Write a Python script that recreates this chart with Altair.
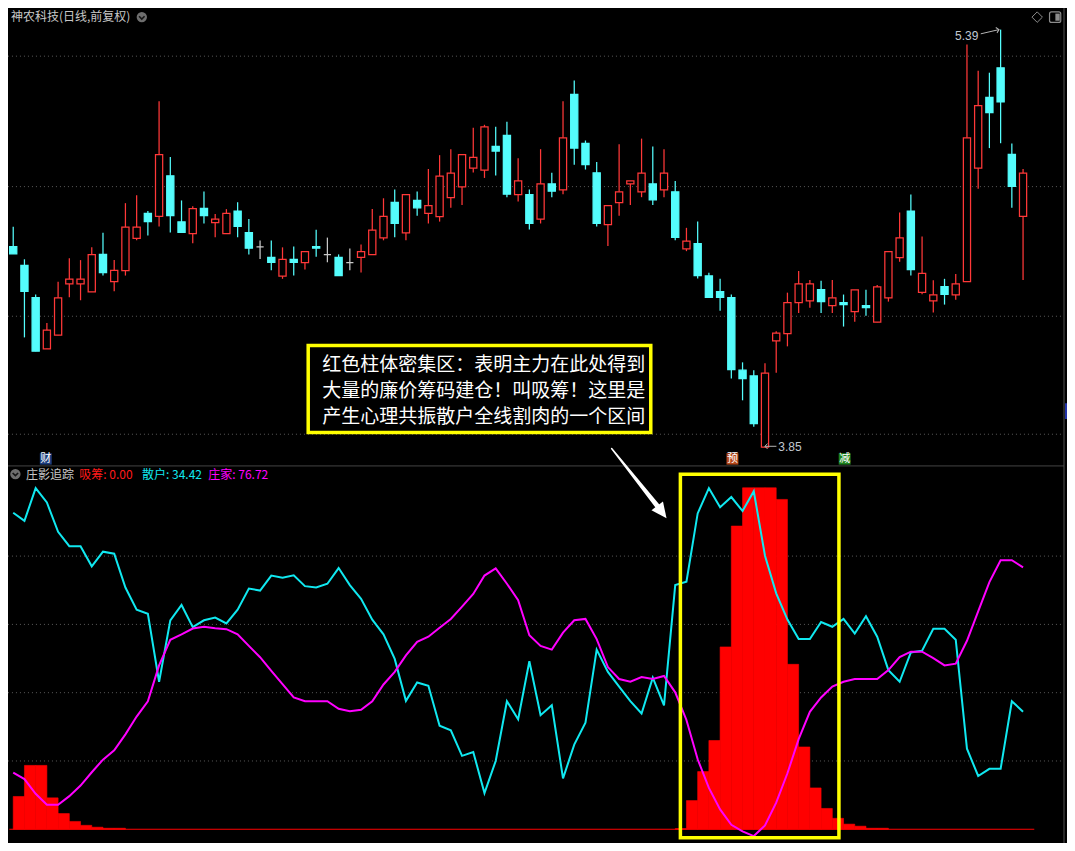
import altair as alt
import pandas as pd

# ---------------- candle data (daily, forward-adjusted) ----------------
opens = [4.590, 4.521, 4.402, 4.213, 4.263, 4.452, 4.452, 4.423, 4.561, 4.461,
         4.501, 4.620, 4.712, 4.701, 4.851, 4.681, 4.638, 4.731, 4.678, 4.638,
         4.721, 4.641, 4.589, 4.550, 4.481, 4.543, 4.531, 4.590, 4.560, 4.550,
         4.531, 4.550, 4.560, 4.622, 4.753, 4.640, 4.760, 4.712, 4.700, 4.770,
         4.810, 4.879, 4.872, 4.959, 5.000, 4.781, 4.781, 4.691, 4.821, 4.799,
         5.151, 4.970, 4.862, 4.671, 4.752, 4.821, 4.792, 4.821, 4.799, 4.792,
         4.581, 4.601, 4.482, 4.424, 4.402, 4.134, 4.113, 3.850, 4.242, 4.269,
         4.383, 4.390, 4.431, 4.372, 4.383, 4.350, 4.372, 4.311, 4.401, 4.549,
         4.721, 4.421, 4.390, 4.442, 4.412, 4.461, 4.879, 5.140, 5.249, 4.930,
         4.701]
highs = [4.663, 4.543, 4.413, 4.308, 4.460, 4.547, 4.540, 4.587, 4.641, 4.540,
         4.750, 4.779, 4.721, 5.126, 4.920, 4.760, 4.739, 4.793, 4.710, 4.728,
         4.753, 4.692, 4.612, 4.612, 4.587, 4.590, 4.571, 4.652, 4.623, 4.561,
         4.583, 4.598, 4.728, 4.768, 4.800, 4.781, 4.793, 4.876, 4.927, 4.949,
         4.929, 5.028, 5.039, 5.032, 5.050, 4.916, 4.800, 4.949, 4.862, 5.126,
         5.202, 4.981, 4.902, 4.741, 4.967, 4.832, 4.988, 4.959, 4.949, 4.832,
         4.659, 4.682, 4.493, 4.471, 4.413, 4.163, 4.134, 4.160, 4.278, 4.420,
         4.500, 4.467, 4.464, 4.467, 4.413, 4.430, 4.431, 4.448, 4.571, 4.716,
         4.782, 4.627, 4.466, 4.471, 4.489, 5.335, 5.238, 5.231, 5.390, 4.970,
         4.876]
lows = [4.563, 4.255, 4.204, 4.213, 4.263, 4.403, 4.392, 4.423, 4.483, 4.425,
        4.483, 4.613, 4.631, 4.664, 4.642, 4.642, 4.602, 4.675, 4.624, 4.638,
        4.624, 4.561, 4.544, 4.503, 4.471, 4.483, 4.505, 4.552, 4.532, 4.483,
        4.503, 4.494, 4.560, 4.613, 4.624, 4.613, 4.704, 4.675, 4.682, 4.733,
        4.743, 4.863, 4.843, 4.852, 4.772, 4.756, 4.653, 4.675, 4.772, 4.783,
        4.892, 4.874, 4.664, 4.592, 4.704, 4.743, 4.772, 4.743, 4.772, 4.613,
        4.573, 4.472, 4.403, 4.353, 4.103, 4.023, 3.926, 3.850, 4.125, 4.222,
        4.345, 4.364, 4.345, 4.345, 4.295, 4.313, 4.335, 4.311, 4.387, 4.534,
        4.483, 4.414, 4.347, 4.376, 4.394, 4.461, 4.803, 4.953, 4.971, 4.733,
        4.467]
closes = [4.563, 4.425, 4.204, 4.282, 4.401, 4.470, 4.470, 4.560, 4.494, 4.502,
          4.662, 4.662, 4.682, 4.929, 4.704, 4.642, 4.730, 4.704, 4.691, 4.712,
          4.664, 4.584, 4.589, 4.532, 4.543, 4.532, 4.571, 4.584, 4.560, 4.483,
          4.531, 4.571, 4.651, 4.701, 4.675, 4.781, 4.733, 4.741, 4.850, 4.861,
          4.929, 4.919, 5.031, 4.942, 4.783, 4.832, 4.675, 4.821, 4.794, 4.991,
          4.953, 4.892, 4.675, 4.741, 4.792, 4.832, 4.861, 4.762, 4.861, 4.624,
          4.610, 4.483, 4.403, 4.403, 4.136, 4.103, 3.937, 4.123, 4.271, 4.383,
          4.452, 4.452, 4.387, 4.401, 4.376, 4.430, 4.365, 4.441, 4.571, 4.622,
          4.505, 4.491, 4.412, 4.414, 4.452, 4.991, 5.110, 5.084, 5.123, 4.812,
          4.861]

# ---------------- indicator data (庄影追踪) ----------------
retail = [92.7, 90.3, 99.9, 95.7, 87.1, 82.9, 82.9, 77.0, 81.3, 80.7,
          70.8, 64.3, 63.1, 43.2, 61.2, 65.7, 59.2, 61.2, 62.0, 60.3,
          64.3, 70.5, 69.9, 74.3, 73.7, 74.4, 71.2, 70.8, 71.9, 76.5,
          71.5, 67.5, 61.4, 57.1, 49.9, 37.6, 43.0, 42.0, 30.3, 29.0,
          21.5, 22.6, 10.6, 20.0, 37.5, 32.2, 49.2, 33.4, 36.3, 14.9,
          24.8, 31.2, 52.6, 46.1, 41.8, 37.5, 33.9, 44.4, 36.3, 71.5,
          72.5, 92.5, 99.9, 94.3, 97.3, 93.2, 99.0, 80.1, 69.1, 61.4,
          55.7, 55.7, 60.7, 59.3, 61.6, 57.3, 62.4, 56.4, 46.6, 43.2,
          51.8, 52.3, 58.7, 58.7, 55.5, 23.6, 15.6, 17.7, 17.7, 37.5,
          34.42]
banker = [16.6, 14.7, 10.4, 7.2, 7.2, 9.7, 12.8, 16.7, 20.4, 23.1,
          27.8, 33.0, 37.5, 48.0, 55.5, 57.1, 58.8, 59.3, 58.9, 58.6,
          57.1, 53.7, 50.4, 46.4, 42.5, 38.6, 37.5, 37.5, 37.5, 35.3,
          34.6, 35.0, 37.5, 42.4, 46.1, 50.9, 54.9, 56.4, 59.0, 61.6,
          65.2, 68.9, 74.3, 76.4, 71.9, 67.1, 56.8, 53.7, 52.6, 57.6,
          61.2, 61.6, 55.7, 47.5, 44.0, 43.2, 44.6, 44.0, 44.9, 40.1,
          32.0, 20.5, 12.1, 5.8, 1.3, -0.6, -2.0, 1.1, 7.8, 16.4,
          26.4, 34.4, 38.6, 41.8, 43.2, 44.0, 44.0, 44.0, 46.6, 50.4,
          52.0, 52.0, 50.1, 48.0, 48.5, 55.2, 63.8, 72.4, 78.8, 78.8,
          76.72]
accum = [9.6, 18.7, 18.7, 9.2, 4.6, 2.3, 1.15, 0.6, 0.3, 0.3,
         0, 0, 0, 0, 0, 0, 0, 0, 0, 0,
         0, 0, 0, 0, 0, 0, 0, 0, 0, 0,
         0, 0, 0, 0, 0, 0, 0, 0, 0, 0,
         0, 0, 0, 0, 0, 0, 0, 0, 0, 0,
         0, 0, 0, 0, 0, 0, 0, 0, 0, 0.2,
         8.4, 16.9, 26.0, 53.4, 88.8, 100, 100, 100, 96.6, 48.3,
         24.1, 12.1, 6.1, 3.2, 1.5, 0.9, 0.3, 0.3, 0, 0,
         0, 0, 0, 0, 0, 0, 0, 0, 0, 0,
         0]

price_grid = [5.292, 4.811, 4.333, 3.898]
ind_grid = [20, 40, 60, 80]

title_text = "神农科技(日线,前复权)"
callout_lines = ["红色柱体密集区：表明主力在此处得到",
                 "大量的廉价筹码建仓！叫吸筹！这里是",
                 "产生心理共振散户全线割肉的一个区间"]
header_labels = ["庄影追踪", "吸筹: 0.00", "散户: 34.42", "庄家: 76.72"]
header_colors = ["#c8c8c8", "#ff1a1a", "#10e8f0", "#ff00ff"]
signal_labels = ["财", "预", "减"]
signal_pos = [2.9, 64.1, 74.1]
signal_colors = ["#1c3c7c", "#b5481a", "#1e821e"]

# ---------------- layout / scales ----------------
W, H = 1059, 835
TOP_H = 457
X = alt.Scale(domain=[-0.4653, 93.916], nice=False, zero=False)
YP = alt.Scale(domain=[3.7845, 5.4696], range=[TOP_H, 0], nice=False, zero=False)
YI = alt.Scale(domain=[-4.023, 106.68], range=[H, TOP_H], nice=False, zero=False)
CJK = "Noto Sans CJK SC"


def xq(f):
    return alt.X(f, type="quantitative", scale=X, axis=None)


def yp(f):
    return alt.Y(f, type="quantitative", scale=YP, axis=None)


def yi(f):
    return alt.Y(f, type="quantitative", scale=YI, axis=None)


def df(**cols):
    return pd.DataFrame({k: (v if isinstance(v, list) else [v]) for k, v in cols.items()})


n = len(opens)
kind = ["up" if c > o else ("down" if c < o else "flat") for o, c in zip(opens, closes)]
candles = pd.DataFrame({"idx": list(range(n)), "open": opens, "high": highs,
                        "low": lows, "close": closes, "kind": kind})
ind = pd.DataFrame({"idx": list(range(n)), "retail": retail, "banker": banker, "accum": accum})

STROKE = alt.Scale(domain=["up", "down", "flat"], range=["#ff3838", "#54fcfc", "#c8c8c8"])
FILL = alt.Scale(domain=["up", "down", "flat"], range=["#000000", "#54fcfc", "#c8c8c8"])

# ---------------- top panel ----------------
grid_top = alt.Chart(df(p=price_grid, a=[-0.47] * 4, b=[93.5] * 4)).mark_rule(
    color="#5a5a5a", strokeWidth=1, strokeDash=[1, 3]
).encode(x=xq("a"), x2="b", y=yp("p"))

wicks = alt.Chart(candles).mark_rule(strokeWidth=1.25).encode(
    x=xq("idx"), y=yp("low"), y2="high",
    stroke=alt.Stroke("kind:N", scale=STROKE, legend=None))

bodies = alt.Chart(candles).transform_calculate(
    left="datum.idx - 0.32", right="datum.idx + 0.32"
).mark_rect(strokeWidth=1.25).encode(
    x=xq("left"), x2="right", y=yp("open"), y2="close",
    stroke=alt.Stroke("kind:N", scale=STROKE, legend=None),
    fill=alt.Fill("kind:N", scale=FILL, legend=None))

title = alt.Chart(df(x=-0.20, y=5.436, t=title_text)).mark_text(
    align="left", baseline="middle", font=CJK, fontSize=12, color="#c8c8c8"
).encode(x=xq("x"), y=yp("y"), text="t:N")
title_circle = alt.Chart(df(x=11.46, y=5.436)).mark_point(
    shape="circle", filled=True, size=107, color="#6e6e6e", opacity=1
).encode(x=xq("x"), y=yp("y"))
title_chev = alt.Chart(df(x=11.46, y=5.434)).mark_point(
    shape="M-1,-0.5L0,0.5L1,-0.5", filled=False, size=30, color="#151515",
    strokeWidth=1.6, opacity=1
).encode(x=xq("x"), y=yp("y"))

icon_diamond = alt.Chart(df(x=91.26, y=5.436)).mark_point(
    shape="diamond", filled=False, size=110, color="#8c8c8c", strokeWidth=1, opacity=1
).encode(x=xq("x"), y=yp("y"))
icon_panel = alt.Chart(df(x0=92.36, x1=93.36, y0=5.4551, y1=5.4164)).mark_rect(
    fillOpacity=0, stroke="#8c8c8c", strokeWidth=1.2, cornerRadius=2
).encode(x=xq("x0"), x2="x1", y=yp("y0"), y2="y1")
icon_panel_fill = alt.Chart(df(x0=92.88, x1=93.27, y0=5.4490, y1=5.4226)).mark_rect(
    color="#8c8c8c"
).encode(x=xq("x0"), x2="x1", y=yp("y0"), y2="y1")

hi_text = alt.Chart(df(x=86.02, y=5.368, t="5.39")).mark_text(
    align="right", baseline="middle", font="Liberation Sans", fontSize=12, color="#c0c8d0"
).encode(x=xq("x"), y=yp("y"), text="t:N")
hi_line = alt.Chart(df(x=[86.23, 87.86], y=[5.3744, 5.390])).mark_line(
    color="#b4b4b4", strokeWidth=1
).encode(x=xq("x"), y=yp("y"))
hi_head = alt.Chart(df(x=87.86, y=5.390)).mark_point(
    shape="M-1,1L0,0L1,1", filled=False, size=30, angle=77, color="#b4b4b4",
    strokeWidth=1, opacity=1
).encode(x=xq("x"), y=yp("y"))

lo_text = alt.Chart(df(x=68.19, y=3.850, t="3.85")).mark_text(
    align="left", baseline="middle", font="Liberation Sans", fontSize=12, color="#c0c8d0"
).encode(x=xq("x"), y=yp("y"), text="t:N")
lo_line = alt.Chart(df(x=[66.99, 68.02], y=[3.8535, 3.8535])).mark_line(
    color="#b4b4b4", strokeWidth=1
).encode(x=xq("x"), y=yp("y"))
lo_head = alt.Chart(df(x=66.99, y=3.8535)).mark_point(
    shape="M-1,1L0,0L1,1", filled=False, size=30, angle=270, color="#b4b4b4",
    strokeWidth=1, opacity=1
).encode(x=xq("x"), y=yp("y"))

sig = df(c=signal_pos, t=signal_labels, y0=[3.828] * 3, y1=[3.786] * 3, ym=[3.807] * 3)
sig_bg = alt.Chart(sig).transform_calculate(
    a="datum.c - 0.53", b="datum.c + 0.53"
).mark_rect().encode(
    x=xq("a"), x2="b", y=yp("y0"), y2="y1",
    color=alt.Color("t:N", scale=alt.Scale(domain=signal_labels, range=signal_colors), legend=None))
sig_txt = alt.Chart(sig).mark_text(
    align="center", baseline="middle", font=CJK, fontSize=11, color="#ffffff"
).encode(x=xq("c"), y=yp("ym"), text="t:N")

blue_tag = alt.Chart(df(x0=93.74, x1=94.6, y0=4.012, y1=3.954)).mark_rect(
    color="#2233aa"
).encode(x=xq("x0"), x2="x1", y=yp("y0"), y2="y1")

callout_box = alt.Chart(df(x0=26.29, x1=56.82, y0=4.225, y1=3.904)).mark_rect(
    fill="#000000", stroke="#ffff00", strokeWidth=3.5
).encode(x=xq("x0"), x2="x1", y=yp("y0"), y2="y1")
callout_txt = alt.Chart(df(x=[27.54] * 3, y=[4.1526, 4.0568, 3.9609], t=callout_lines)).mark_text(
    align="left", baseline="middle", font=CJK, fontSize=19, color="#ffffff"
).encode(x=xq("x"), y=yp("y"), text="t:N")

top = alt.layer(grid_top, wicks, bodies, title, title_circle, title_chev,
                icon_diamond, icon_panel, icon_panel_fill,
                hi_text, hi_line, hi_head, lo_text, lo_line, lo_head,
                sig_bg, sig_txt, blue_tag, callout_box, callout_txt)

# ---------------- bottom panel ----------------
grid_ind_l = alt.Chart(df(v=ind_grid, a=[-0.47] * 4, b=[93.5] * 4)).mark_rule(
    color="#5a5a5a", strokeWidth=1, strokeDash=[1, 3]
).encode(x=xq("a"), x2="b", y=yi("v"))

bars = alt.Chart(ind).transform_filter("datum.accum > 0").transform_calculate(
    nxt="datum.idx + 1", base="0"
).mark_rect(color="#ff0000", stroke="#ff0000", strokeWidth=0.6).encode(
    x=xq("idx"), x2="nxt:Q", y=yi("accum"), y2="base:Q")

baseline = alt.Chart(df(v=0, a=-0.35, b=91.0)).mark_rule(
    color="#ff0000", strokeWidth=1
).encode(x=xq("a"), x2="b", y=yi("v"))

retail_line = alt.Chart(ind).mark_line(color="#10e8f0", strokeWidth=2).encode(
    x=xq("idx"), y=yi("retail"))
banker_line = alt.Chart(ind).mark_line(color="#ff00ff", strokeWidth=2).encode(
    x=xq("idx"), y=yi("banker"))

separator = alt.Chart(df(v=106.41, a=-0.47, b=93.65)).mark_rule(
    color="#444444", strokeWidth=1
).encode(x=xq("a"), x2="b", y=yi("v"))
border = alt.Chart(df(x=93.65, v0=-4.02, v1=240.5)).mark_rule(
    color="#505050", strokeWidth=1
).encode(x=xq("x"), y=yi("v0"), y2="v1")

hdr_circle = alt.Chart(df(x=0.193, y=104.02)).mark_point(
    shape="circle", filled=True, size=107, color="#6e6e6e", opacity=1
).encode(x=xq("x"), y=yi("y"))
hdr_chev = alt.Chart(df(x=0.193, y=103.95)).mark_point(
    shape="M-1,-0.5L0,0.5L1,-0.5", filled=False, size=30, color="#151515",
    strokeWidth=1.6, opacity=1
).encode(x=xq("x"), y=yi("y"))
hdr_txt = alt.Chart(df(x=[1.14, 5.88, 11.475, 17.38], y=[103.88] * 4, t=header_labels)).mark_text(
    align="left", baseline="middle", font=CJK, fontSize=12
).encode(x=xq("x"), y=yi("y"), text="t:N",
         color=alt.Color("t:N", scale=alt.Scale(domain=header_labels, range=header_colors), legend=None))

ybox = alt.Chart(df(x0=59.46, x1=73.59, y0=103.94, y1=-2.5)).mark_rect(
    fillOpacity=0, stroke="#ffff00", strokeWidth=3.5
).encode(x=xq("x0"), x2="x1", y=yi("y0"), y2="y1")

arrow_shaft = alt.Chart(df(x=[53.33, 57.41], y=[111.49, 94.68], w=[1.5, 5.0])).mark_trail(
    color="#ffffff"
).encode(x=xq("x"), y=yi("y"), size=alt.Size("w:Q", scale=None, legend=None))
arrow_head = alt.Chart(df(x=57.81, y=92.89)).mark_point(
    shape="M0,-1L0.93,1L-0.93,1Z", filled=True, size=240, angle=143,
    color="#ffffff", opacity=1
).encode(x=xq("x"), y=yi("y"))

bottom = alt.layer(grid_ind_l, bars, baseline, retail_line, banker_line,
                   separator, border, hdr_circle, hdr_chev, hdr_txt,
                   ybox, arrow_shaft, arrow_head)

chart = alt.layer(top, bottom).resolve_scale(
    y="independent", color="independent", fill="independent", stroke="independent"
).properties(
    width=W, height=H, padding=0,
    autosize=alt.AutoSizeParams(type="none"),
    background="#000000"
).configure_view(stroke=None)

chart.save("out.html", embed_options={"renderer": "svg", "actions": False})
